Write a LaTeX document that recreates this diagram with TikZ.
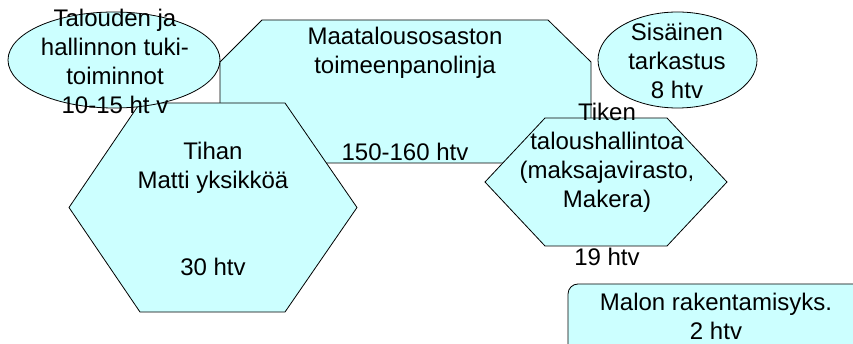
\documentclass[tikz,border=0pt]{standalone}
\usepackage{fontspec}
\setmainfont{Liberation Sans}
\definecolor{boxfill}{HTML}{CCFFFF}
\tikzset{
  shapebox/.style={draw=black, fill=boxfill, line width=0.8pt, line join=miter},
  lbl/.style={inner sep=0pt, align=center, font=\fontsize{24}{29}\selectfont, text=black},
}
\begin{document}
\begin{tikzpicture}[x=1pt,y=-1pt]
\useasboundingbox (0,0) rectangle (853,344);
\clip (0,0) rectangle (853,344);
% octagon
\draw[shapebox] (220,62) -- (262,20) -- (548,20) -- (591,62) -- (591,121) -- (548,163) -- (262,163) -- (220,121) -- cycle;
% Tihan hexagon
\draw[shapebox] (140,103) -- (285,103) -- (357,207.5) -- (285,312) -- (140,312) -- (69,207.5) -- cycle;
% Talouden ellipse
\draw[shapebox] (114,60) ellipse [x radius=106, y radius=48];
% Sisainen ellipse
\draw[shapebox] (677.5,60) ellipse [x radius=79.5, y radius=48];
% Tiken hexagon
\draw[shapebox] (545,118) -- (667,118) -- (727,182) -- (667,246) -- (545,246) -- (485,182) -- cycle;
% Malon rounded rectangle
\draw[shapebox, rounded corners=10pt] (568,284) rectangle (880,365);
% texts
\node[lbl] (talous) at (115,61.5) {Talouden ja\\hallinnon tuki-\\toiminnot\\10-15 ht v};
\node[lbl] (maatalous) at (405,93.5) {Maatalousosaston\\toimeenpanolinja\\[58pt]150-160 htv};
\node[lbl] (sisainen) at (677,61) {Sisäinen\\tarkastus\\8 htv};
\node[lbl] (tihan) at (213,209) {Tihan\\Matti yksikköä\\[58pt]30 htv};
\node[lbl] (tiken) at (607,184) {Tiken\\taloushallintoa\\(maksajavirasto,\\Makera)\\[29pt]19 htv};
\node[lbl] (malon) at (716,316) {Malon rakentamisyks.\\2 htv};
\end{tikzpicture}
\end{document}
